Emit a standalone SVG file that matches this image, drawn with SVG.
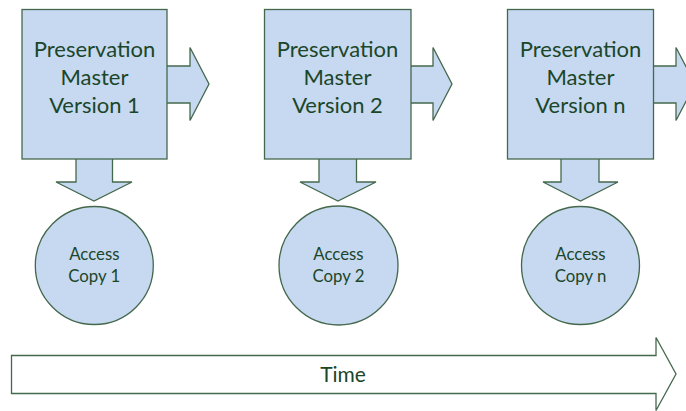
<svg xmlns="http://www.w3.org/2000/svg" width="686" height="411" viewBox="0 0 686 411">
<style>
.shape{fill:#c6d9f0;stroke:#44684c;stroke-width:1.3}
.box{fill:#c6d9f0;stroke:#44684c;stroke-width:1.3}
.big{font-family:Lato,"Liberation Sans",sans-serif;font-size:22px;fill:#1b4629;text-anchor:middle}
.small{font-family:Lato,"Liberation Sans",sans-serif;font-size:16.8px;fill:#1b4629;text-anchor:middle}
.tlabel{font-family:Lato,"Liberation Sans",sans-serif;font-size:21px;fill:#1b4629;text-anchor:middle}
.time{fill:#ffffff;stroke:#44684c;stroke-width:1.3}
</style>
<rect width="686" height="411" fill="#ffffff"/>
<g id="connectors">
<path class="shape" d="M160,66 H190 V47.5 L209,84 L190,120.5 V103 H160 Z"/>
<path class="shape" d="M404,66 H433 V47.5 L452,84 L433,120.5 V103 H404 Z"/>
<path class="shape" d="M646,66 H676 V47.5 L695,84 L676,120.5 V103 H646 Z"/>
<path class="shape" d="M76,150 H112.5 V182 H132 L94,201 L56,182 H76 Z"/>
<path class="shape" d="M319,150 H356.5 V182 H376 L338,201 L300,182 H319 Z"/>
<path class="shape" d="M561,150 H599 V182 H618 L580.5,201 L543,182 H561 Z"/>
</g>
<g id="master1">
<rect class="box" x="22" y="9.5" width="145" height="149.5"/>
<text class="big" x="94.5" y="56.5">Preservation</text>
<text class="big" x="94.5" y="84.5">Master</text>
<text class="big" x="94.5" y="112.5">Version 1</text>
</g>
<g id="master2">
<rect class="box" x="264.5" y="9.5" width="146.5" height="149.5"/>
<text class="big" x="337.5" y="56.5">Preservation</text>
<text class="big" x="337.5" y="84.5">Master</text>
<text class="big" x="337.5" y="112.5">Version 2</text>
</g>
<g id="mastern">
<rect class="box" x="507.5" y="9.5" width="146" height="149.5"/>
<text class="big" x="580.5" y="56.5">Preservation</text>
<text class="big" x="580.5" y="84.5">Master</text>
<text class="big" x="580.5" y="112.5">Version n</text>
</g>
<g id="access1">
<circle class="box" cx="94.3" cy="265.5" r="59"/>
<text class="small" x="94.3" y="259.5">Access</text>
<text class="small" x="94.3" y="281.5">Copy 1</text>
</g>
<g id="access2">
<circle class="box" cx="338.5" cy="265.5" r="59.5"/>
<text class="small" x="338.5" y="259.5">Access</text>
<text class="small" x="338.5" y="281.5">Copy 2</text>
</g>
<g id="accessn">
<circle class="box" cx="580.5" cy="265.5" r="59"/>
<text class="small" x="580.5" y="259.5">Access</text>
<text class="small" x="580.5" y="281.5">Copy n</text>
</g>
<g id="time">
<path class="time" d="M11.5,355.5 H656 V337.5 L676,374 L656,410.5 V393.5 H11.5 Z"/>
<text class="tlabel" x="343" y="381.5">Time</text>
</g>
</svg>
